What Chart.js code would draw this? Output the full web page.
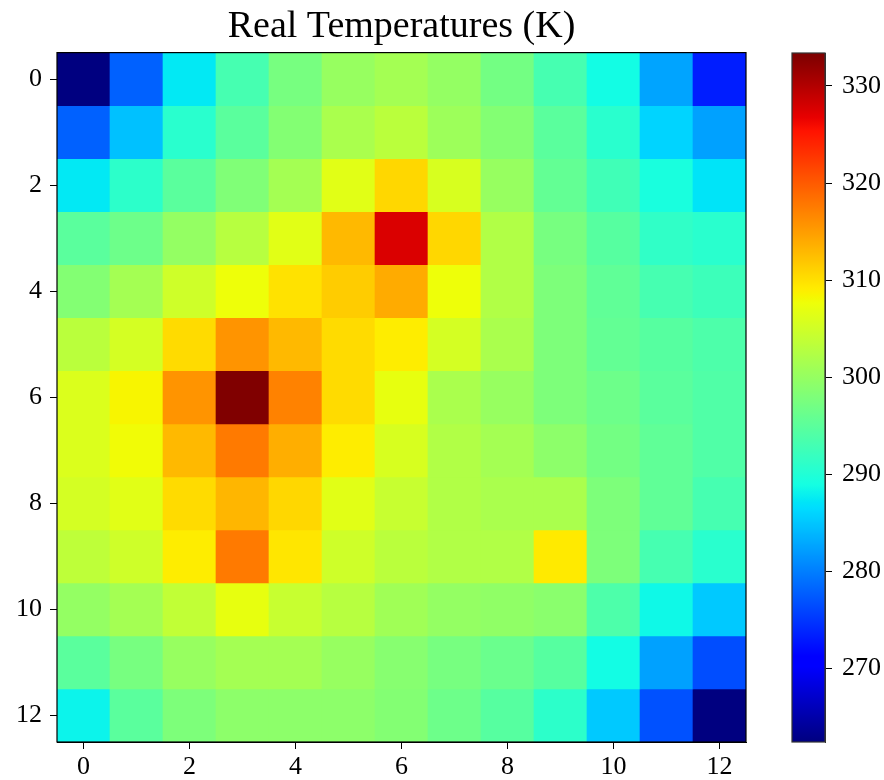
<!DOCTYPE html>
<html>
<head>
<meta charset="utf-8">
<script src="https://cdn.jsdelivr.net/npm/chart.js@4.4.0/dist/chart.umd.min.js"></script>
<style>
  html, body { margin: 0; padding: 0; background: #fff; }
  #wrap { position: relative; width: 884px; height: 780px; }
  #heat { position: absolute; left: 0; top: 0; }
  #cbar { position: absolute; left: 770px; top: 0; }
</style>
</head>
<body>
<div id="wrap">
  <canvas id="heat" width="803" height="780"></canvas>
  <canvas id="cbar" width="114" height="780"></canvas>
</div>
<script>
// ---- data ----
const TITLE = 'Real Temperatures (K)';
const COLUMNS = [0,1,2,3,4,5,6,7,8,9,10,11,12];
const ROWS = [0,1,2,3,4,5,6,7,8,9,10,11,12];
const AXIS_TICKS = [0,2,4,6,8,10,12];
const CBAR_TICKS = [270,280,290,300,310,320,330];
const row0  = [262.4, 278.2, 287.6, 293.3, 297.6, 300.2, 301.5, 300.0, 297.2, 293.3, 288.8, 282.8, 273.4];
const row1  = [278.0, 284.8, 290.8, 295.1, 298.5, 301.9, 303.2, 300.9, 298.5, 295.0, 290.8, 286.0, 282.4];
const row2  = [287.5, 291.2, 295.1, 298.2, 301.5, 306.7, 310.9, 305.8, 300.2, 295.8, 292.9, 289.4, 287.3];
const row3  = [295.0, 296.7, 300.0, 303.0, 306.7, 313.1, 327.7, 310.9, 302.4, 297.6, 294.6, 291.5, 290.8];
const row4  = [298.5, 301.5, 305.0, 307.8, 309.9, 311.6, 314.2, 307.8, 302.4, 298.0, 295.5, 293.3, 292.4];
const row5  = [303.2, 305.4, 310.5, 315.8, 313.1, 310.6, 309.1, 305.4, 302.0, 298.0, 295.8, 294.6, 293.8];
const row6  = [306.2, 308.6, 315.8, 333.4, 317.2, 310.6, 307.1, 302.0, 300.2, 298.0, 296.7, 295.1, 294.2];
const row7  = [306.2, 308.0, 313.1, 317.6, 313.9, 309.1, 305.8, 302.4, 301.5, 299.4, 297.2, 295.5, 294.2];
const row8  = [305.4, 306.7, 310.6, 313.4, 310.9, 306.7, 304.5, 302.4, 302.0, 302.0, 298.0, 295.5, 293.2];
const row9  = [303.6, 305.0, 309.1, 317.6, 309.6, 305.0, 303.2, 302.4, 302.4, 309.5, 298.0, 293.3, 290.8];
const row10 = [300.0, 301.5, 304.0, 307.1, 304.5, 303.0, 301.2, 300.0, 299.6, 299.2, 293.8, 288.6, 285.3];
const row11 = [295.0, 297.6, 300.2, 301.5, 301.5, 300.2, 299.0, 297.6, 296.4, 294.6, 289.0, 282.4, 276.6];
const row12 = [288.4, 295.0, 298.0, 299.4, 299.4, 299.4, 298.5, 296.7, 294.6, 291.2, 285.3, 277.0, 262.4];
const VALUES = [row0,row1,row2,row3,row4,row5,row6,row7,row8,row9,row10,row11,row12];

const VMIN = Math.min(...VALUES.flat());
const VMAX = Math.max(...VALUES.flat());

// ---- jet colormap (matplotlib) ----
function interp(segs, t) {
  for (let i = 1; i < segs.length; i++) {
    if (t <= segs[i][0]) {
      const [x0, y0] = segs[i-1], [x1, y1] = segs[i];
      return y0 + (y1 - y0) * (t - x0) / (x1 - x0);
    }
  }
  return segs[segs.length-1][1];
}
const JR = [[0,0],[0.35,0],[0.66,1],[0.89,1],[1,0.5]];
const JG = [[0,0],[0.125,0],[0.375,1],[0.64,1],[0.91,0],[1,0]];
const JB = [[0,0.5],[0.11,1],[0.34,1],[0.65,0],[1,0]];
function jet(t) {
  t = Math.max(0, Math.min(1, t));
  t = Math.min(255, Math.floor(t * 256)) / 255;
  const r = Math.round(255 * interp(JR, t));
  const g = Math.round(255 * interp(JG, t));
  const b = Math.round(255 * interp(JB, t));
  return `rgb(${r},${g},${b})`;
}
const colorFor = v => jet((v - VMIN) / (VMAX - VMIN));

const FONT = { family: "'Liberation Serif', 'DejaVu Serif', serif", size: 26 };

const frame = color => ({
  id: 'frame',
  afterDraw(chart) {
    const { ctx, chartArea: a } = chart;
    ctx.save();
    ctx.strokeStyle = color;
    ctx.lineWidth = 1.2;
    ctx.strokeRect(a.left, a.top, a.right - a.left, a.bottom - a.top);
    ctx.restore();
  }
});

// ---- heatmap ----
const datasets = ROWS.map((r, ri) => ({
  data: COLUMNS.map((c, ci) => ({ x: c, y: [r - 0.5, r + 0.5] })),
  backgroundColor: VALUES[ri].map(colorFor),
  borderWidth: 0,
  barPercentage: 1,
  categoryPercentage: 1,
  grouped: false
}));

new Chart(document.getElementById('heat'), {
  type: 'bar',
  data: { datasets },
  options: {
    responsive: false,
    animation: false,
    layout: { padding: 0 },
    plugins: {
      legend: { display: false },
      tooltip: { enabled: false },
      title: {
        display: true,
        text: TITLE,
        color: '#000',
        font: { family: FONT.family, size: 38, weight: 'normal' },
        padding: { top: 4, bottom: 3 }
      }
    },
    scales: {
      x: {
        type: 'linear',
        offset: false,
        min: -0.5, max: 12.5,
        afterBuildTicks: s => { s.ticks = AXIS_TICKS.map(v => ({ value: v })); },
        afterFit: s => { s.height = 38; },
        ticks: { color: '#000', font: FONT, padding: 3, maxRotation: 0, autoSkip: false },
        grid: { offset: false, drawOnChartArea: false, drawTicks: true, tickLength: 7, color: '#000', tickColor: '#000' },
        border: { color: '#000' }
      },
      y: {
        type: 'linear',
        reverse: true,
        min: -0.5, max: 12.5,
        afterBuildTicks: s => { s.ticks = AXIS_TICKS.map(v => ({ value: v })); },
        afterFit: s => { s.width = 57; },
        ticks: { color: '#000', font: FONT, padding: 8, autoSkip: false },
        grid: { drawOnChartArea: false, drawTicks: true, tickLength: 7, color: '#000', tickColor: '#000' },
        border: { color: '#000' }
      },
      ySpacer: {
        type: 'linear',
        position: 'right',
        reverse: true,
        min: -0.5, max: 12.5,
        afterFit: s => { s.width = 57; },
        ticks: { display: false },
        grid: { display: false },
        border: { display: false }
      }
    }
  },
  plugins: [frame('#000')]
});

// ---- colorbar ----
function cbarGradient(ctx) {
  const chart = ctx.chart;
  const ys = chart.scales.y;
  if (!ys || !chart.chartArea) return '#888';
  const y0 = ys.getPixelForValue(VMIN), y1 = ys.getPixelForValue(VMAX);
  const g = chart.ctx.createLinearGradient(0, y0, 0, y1);
  for (let i = 0; i <= 256; i++) {
    const t = i / 256;
    g.addColorStop(t, jet(t));
  }
  return g;
}

new Chart(document.getElementById('cbar'), {
  type: 'bar',
  data: {
    labels: ['K'],
    datasets: [{
      data: [[VMIN, VMAX]],
      backgroundColor: cbarGradient,
      borderWidth: 0,
      barPercentage: 1,
      categoryPercentage: 1
    }]
  },
  options: {
    responsive: false,
    animation: false,
    layout: { padding: { left: 22, right: 0, top: 53, bottom: 38 } },
    plugins: { legend: { display: false }, tooltip: { enabled: false }, title: { display: false } },
    scales: {
      x: { display: false },
      y: {
        position: 'right',
        min: VMIN, max: VMAX,
        afterBuildTicks: s => { s.ticks = CBAR_TICKS.map(v => ({ value: v })); },
        afterFit: s => { s.width = 59; },
        ticks: { color: '#000', font: FONT, padding: 10, autoSkip: false },
        grid: { drawOnChartArea: false, drawTicks: true, tickLength: 7, color: '#000', tickColor: '#000' },
        border: { color: '#333' }
      }
    }
  },
  plugins: [frame('#333')]
});
</script>
</body>
</html>
